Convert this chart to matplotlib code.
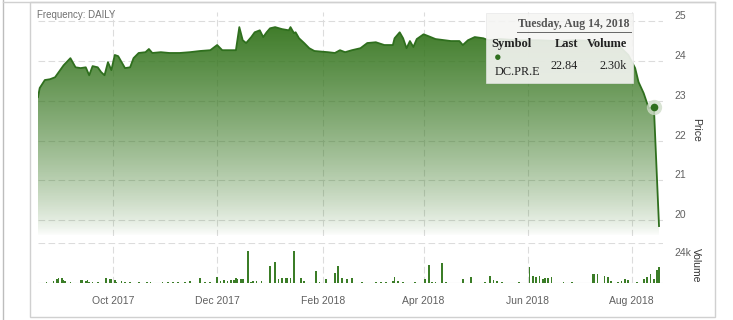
import numpy as np
import pandas as pd
import matplotlib
matplotlib.use("Agg")
import matplotlib.pyplot as plt
import matplotlib.dates as mdates
from matplotlib.patches import Polygon, Rectangle
from matplotlib.lines import Line2D
from matplotlib.transforms import ScaledTranslation

plt.rcParams['font.family'] = ['Liberation Sans', 'DejaVu Sans']

### price data ###
price_dates = ['2017-08-18', '2017-08-19', '2017-08-22', '2017-08-25', '2017-08-28', '2017-08-31',
               '2017-09-02', '2017-09-06', '2017-09-09', '2017-09-12', '2017-09-15', '2017-09-17',
               '2017-09-19', '2017-09-22', '2017-09-24', '2017-09-26', '2017-09-28', '2017-09-30',
               '2017-10-02', '2017-10-04', '2017-10-06', '2017-10-08', '2017-10-11', '2017-10-13',
               '2017-10-16', '2017-10-20', '2017-10-22', '2017-10-24', '2017-10-29', '2017-11-03',
               '2017-11-09', '2017-11-15', '2017-11-21', '2017-11-27', '2017-12-01', '2017-12-04',
               '2017-12-08', '2017-12-12', '2017-12-14', '2017-12-16', '2017-12-18', '2017-12-21',
               '2017-12-23', '2017-12-26', '2017-12-28', '2017-12-30', '2018-01-01', '2018-01-04',
               '2018-01-08', '2018-01-12', '2018-01-13', '2018-01-15', '2018-01-16', '2018-01-18',
               '2018-01-21', '2018-01-24', '2018-01-27', '2018-02-04', '2018-02-08', '2018-02-11',
               '2018-02-14', '2018-02-18', '2018-02-23', '2018-02-27', '2018-03-04', '2018-03-09',
               '2018-03-14', '2018-03-15', '2018-03-18', '2018-03-20', '2018-03-22', '2018-03-24',
               '2018-03-26', '2018-03-28', '2018-04-01', '2018-04-04', '2018-04-08', '2018-04-17',
               '2018-04-22', '2018-04-24', '2018-04-27', '2018-05-01', '2018-05-06', '2018-05-09',
               '2018-05-16', '2018-05-26', '2018-06-07', '2018-06-18', '2018-06-29', '2018-07-10',
               '2018-07-19', '2018-07-24', '2018-07-30', '2018-08-03', '2018-08-05', '2018-08-08',
               '2018-08-11', '2018-08-14', '2018-08-17']
price = [23.09, 23.32, 23.52, 23.54, 23.59, 23.77,
         23.89, 24.07, 23.84, 23.82, 23.84, 23.64,
         23.87, 23.84, 23.72, 23.64, 23.97, 23.77,
         24.15, 24.12, 23.97, 23.82, 23.84, 24.07,
         24.20, 24.22, 24.30, 24.20, 24.22, 24.20,
         24.20, 24.22, 24.25, 24.27, 24.40, 24.27,
         24.27, 24.27, 24.85, 24.52, 24.45, 24.60,
         24.72, 24.77, 24.60, 24.72, 24.82, 24.85,
         24.80, 24.77, 24.85, 24.70, 24.72, 24.57,
         24.45, 24.32, 24.25, 24.22, 24.20, 24.27,
         24.22, 24.27, 24.32, 24.45, 24.47, 24.40,
         24.40, 24.57, 24.72, 24.57, 24.32, 24.50,
         24.35, 24.55, 24.67, 24.62, 24.55, 24.50,
         24.50, 24.40, 24.52, 24.60, 24.57, 24.52,
         24.55, 24.52, 24.52, 24.50, 24.52, 24.50,
         24.47, 24.40, 24.15, 23.82, 23.47, 23.19,
         22.81, 22.84, 19.85]

### volume data ###
vol_dates = ['2017-08-23', '2017-08-27', '2017-08-29', '2017-08-30', '2017-09-01', '2017-09-02',
             '2017-09-03', '2017-09-06', '2017-09-12', '2017-09-13', '2017-09-15', '2017-09-16',
             '2017-09-17', '2017-09-19', '2017-09-22', '2017-09-27', '2017-09-29', '2017-09-30',
             '2017-10-02', '2017-10-03', '2017-10-06', '2017-10-08', '2017-10-11', '2017-10-16',
             '2017-10-21', '2017-10-23', '2017-10-30', '2017-11-02', '2017-11-05', '2017-11-08',
             '2017-11-12', '2017-11-15', '2017-11-21', '2017-11-24', '2017-11-27', '2017-12-01',
             '2017-12-03', '2017-12-05', '2017-12-07', '2017-12-09', '2017-12-11', '2017-12-12',
             '2017-12-13', '2017-12-15', '2017-12-16', '2017-12-19', '2017-12-21', '2017-12-22',
             '2017-12-24', '2017-12-27', '2018-01-01', '2018-01-04', '2018-01-06', '2018-01-08',
             '2018-01-10', '2018-01-11', '2018-01-13', '2018-01-15', '2018-01-19', '2018-01-21',
             '2018-01-28', '2018-01-30', '2018-02-03', '2018-02-08', '2018-02-10', '2018-02-12',
             '2018-02-15', '2018-02-18', '2018-02-24', '2018-03-04', '2018-03-07', '2018-03-10',
             '2018-03-14', '2018-03-15', '2018-03-17', '2018-03-20', '2018-03-27', '2018-04-02',
             '2018-04-04', '2018-04-06', '2018-04-08', '2018-04-12', '2018-04-14', '2018-04-24',
             '2018-04-29', '2018-05-07', '2018-05-10', '2018-05-12', '2018-05-14', '2018-05-17',
             '2018-05-27', '2018-06-02', '2018-06-04', '2018-06-06', '2018-06-08', '2018-06-10',
             '2018-06-11', '2018-06-13', '2018-06-15', '2018-06-22', '2018-06-27', '2018-07-09',
             '2018-07-10', '2018-07-12', '2018-07-16', '2018-07-18', '2018-07-20', '2018-07-24',
             '2018-07-26', '2018-07-28', '2018-07-30', '2018-08-04', '2018-08-08', '2018-08-10',
             '2018-08-12', '2018-08-14', '2018-08-16', '2018-08-17']
volume = [600, 1200, 2400, 3000, 3000, 1800,
          1200, 600, 1800, 1800, 1200, 1800,
          600, 600, 600, 3000, 2400, 2400,
          1800, 600, 1200, 600, 600, 600,
          600, 600, 600, 600, 600, 600,
          600, 1200, 3000, 600, 600, 3600,
          1200, 1800, 1200, 1800, 1800, 3000,
          2400, 2400, 2400, 19200, 600, 1200,
          1200, 1200, 10200, 12600, 2400, 3000,
          3000, 3000, 3000, 19200, 3000, 1200,
          7200, 600, 2400, 6000, 10200, 3000,
          2400, 3000, 600, 600, 600, 600,
          1200, 3600, 1200, 600, 600, 2400,
          10800, 600, 600, 12000, 600, 2400,
          3600, 600, 4200, 1800, 1200, 600,
          600, 9600, 4200, 3600, 4200, 2400,
          3000, 3000, 3600, 600, 600, 5400,
          5400, 5400, 4200, 3600, 1200, 600,
          1200, 2400, 1800, 600, 2400, 3600,
          5400, 2300, 7800, 9600]

month_ticks = ['2017-10-01', '2017-12-01', '2018-02-01', '2018-04-01', '2018-06-01', '2018-08-01']
price_ticks = [20, 21, 22, 23, 24, 25]
tip_date = '2018-08-14'
tip_last = 22.84
tip_volume = '2.30k'

W, H = 733, 320
green = '#2f6f1e'
base_rgb = np.array([0.21, 0.46, 0.12])
grid_c = '#dcdcdc'
text_c = '#606060'

pd_price = mdates.date2num(pd.to_datetime(price_dates))
pd_vol = mdates.date2num(pd.to_datetime(vol_dates))
xlim = (mdates.date2num(pd.Timestamp('2017-08-18')), mdates.date2num(pd.Timestamp('2018-08-19 08:00')))
ylim = (19.6, 25.23)

def fx(px):
    return px / W

def fy(py):
    return 1 - py / H

fig = plt.figure(figsize=(W / 100, H / 100), dpi=100)
fig.patch.set_facecolor('white')

### price panel ###
ax = fig.add_axes([fx(38), fy(236), fx(663) - fx(38), fy(12) - fy(236)])
ax.set_xlim(xlim)
ax.set_ylim(ylim)

# gradient under the line
n = 256
t = np.linspace(0, 1, n)[:, None]
alpha = (1 - t) ** 0.75
grad = np.zeros((n, 1, 4))
grad[:, 0, :3] = base_rgb
grad[:, 0, 3] = alpha[:, 0]
verts = [(pd_price[0], ylim[0])] + list(zip(pd_price, price)) + [(pd_price[-1], ylim[0])]
clip = Polygon(verts, closed=True, facecolor='none', edgecolor='none')
ax.add_patch(clip)
im = ax.imshow(grad, extent=[xlim[0], xlim[1], ylim[0], ylim[1]], aspect='auto',
               origin='upper', zorder=1, interpolation='bilinear')
im.set_clip_path(clip)
ax.plot(pd_price, price, color=green, lw=1.3, zorder=3)

# hovered point
tip_x = mdates.date2num(pd.Timestamp(tip_date))
ax.plot(tip_x, tip_last, 'o', ms=11, color='#cfdcc8', alpha=0.8, zorder=4, mec='none')
ax.plot(tip_x, tip_last, 'o', ms=5.5, color=green, zorder=5, mec='none')

ax.set_xlim(xlim)
ax.set_ylim(ylim)
ax.set_yticks(price_ticks)
ax.set_xticks(mdates.date2num(pd.to_datetime(month_ticks)))
ax.set_axisbelow(True)
ax.grid(True, color=grid_c, ls=(0, (6, 3)), lw=0.8)
ax.yaxis.tick_right()
ax.tick_params(axis='y', length=0, labelsize=7.5, labelcolor=text_c, pad=8)
ax.tick_params(axis='x', length=0, labelbottom=False)
for lab in ax.get_yticklabels():
    lab.set_transform(lab.get_transform() + ScaledTranslation(0, 0.06, fig.dpi_scale_trans))
for s in ax.spines.values():
    s.set_visible(False)
ax.set_facecolor('none')

### volume panel ###
vx = fig.add_axes([fx(38), fy(283), fx(663) - fx(38), fy(243) - fy(283)])
vx.bar(pd_vol, volume, width=1.0, color='#3b7d27', zorder=3)
vx.set_xlim(xlim)
vx.set_ylim(0, 24000)
vx.set_yticks([24000])
vx.set_yticklabels(['24k'])
vx.set_xticks(mdates.date2num(pd.to_datetime(month_ticks)))
vx.xaxis.set_major_formatter(mdates.DateFormatter('%b %Y'))
vx.grid(True, color=grid_c, ls=(0, (6, 3)), lw=0.8, zorder=0)
vx.yaxis.tick_right()
vx.tick_params(axis='y', length=0, labelsize=7.5, labelcolor=text_c, pad=8)
vx.tick_params(axis='x', length=0, labelsize=7.5, labelcolor=text_c, pad=9)
for lab in vx.get_yticklabels():
    lab.set_transform(lab.get_transform() + ScaledTranslation(0, -0.09, fig.dpi_scale_trans))
for s in vx.spines.values():
    s.set_visible(False)
vx.axhline(0, color='#cccccc', lw=0.8, zorder=1)

### axis titles ###
fig.text(fx(696), fy(130), 'Price', rotation=270, ha='center', va='center', fontsize=7.5, color='#333333')
fig.text(fx(696), fy(265), 'Volume', rotation=270, ha='center', va='center', fontsize=7.5, color='#333333')
fig.text(fx(37), fy(15), 'Frequency: DAILY', ha='left', va='center', fontsize=7, color='#707070')

### tooltip ###
fig.add_artist(Rectangle((fx(486), fy(83)), fx(633) - fx(486), fy(13) - fy(83), transform=fig.transFigure,
                         facecolor='#f5f5f3', edgecolor='#e6e6e6', lw=0.5, alpha=0.9, zorder=10))
serif = ['Liberation Serif', 'DejaVu Serif']
fig.text(fx(630), fy(24), 'Tuesday, Aug 14, 2018', ha='right', va='center', fontsize=8.5,
         family=serif, fontweight='bold', color='#555555', zorder=11)
fig.add_artist(Line2D([fx(517), fx(631)], [fy(32), fy(32)], transform=fig.transFigure, color='#666666', lw=0.7, zorder=11))
fig.text(fx(491), fy(44), 'Symbol', ha='left', va='center', fontsize=9, family=serif, fontweight='bold', color='#222222', zorder=11)
fig.text(fx(578), fy(44), 'Last', ha='right', va='center', fontsize=9, family=serif, fontweight='bold', color='#222222', zorder=11)
fig.text(fx(627), fy(44), 'Volume', ha='right', va='center', fontsize=9, family=serif, fontweight='bold', color='#222222', zorder=11)
fig.text(fx(498), fy(58), '\u25CF', ha='center', va='center', fontsize=9, color=green, zorder=11)
fig.text(fx(495), fy(72), 'DC.PR.E', ha='left', va='center', fontsize=8.8, family=serif, color='#222222', zorder=11)
fig.text(fx(578), fy(66), '%.2f' % tip_last, ha='right', va='center', fontsize=8.8, family=serif, color='#222222', zorder=11)
fig.text(fx(627), fy(66), tip_volume, ha='right', va='center', fontsize=8.8, family=serif, color='#222222', zorder=11)

### outer frame ###
fig.add_artist(Rectangle((fx(29.5), fy(317)), fx(715) - fx(29.5), fy(2) - fy(317), transform=fig.transFigure,
                         fill=False, edgecolor='#d0d0d0', lw=1.0))
fig.add_artist(Line2D([fx(3), fx(3)], [0, 1], transform=fig.transFigure, color='#bdbdbd', lw=1.0))
fig.add_artist(Line2D([fx(3), fx(715)], [fy(1.5), fy(1.5)], transform=fig.transFigure, color='#d0d0d0', lw=1.0))

fig.savefig('out.png', dpi=100)
